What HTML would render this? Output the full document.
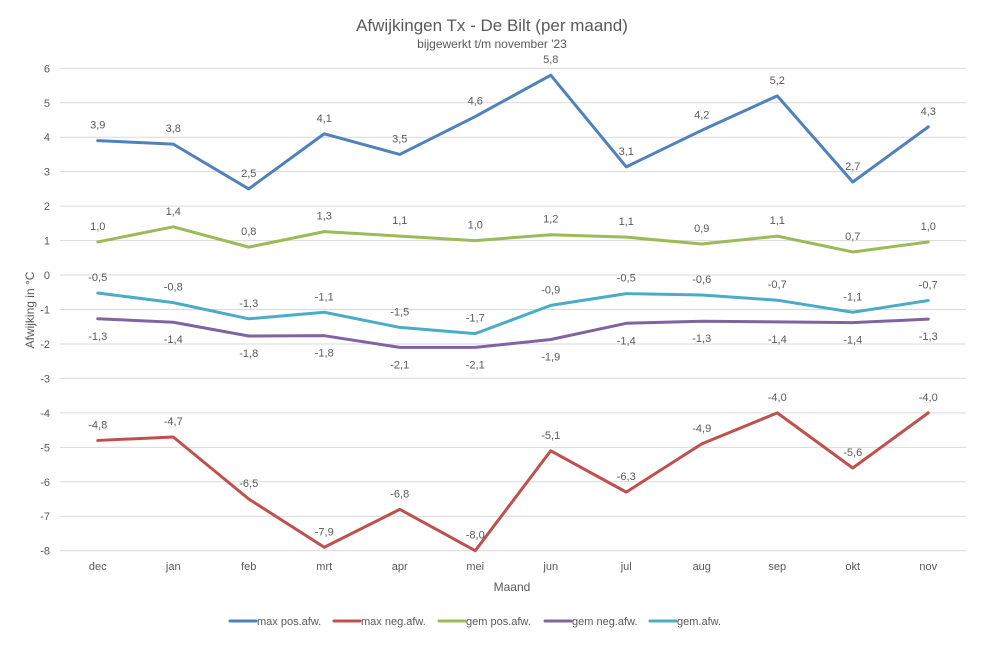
<!DOCTYPE html>
<html><head><meta charset="utf-8"><style>
body{margin:0;background:#fff;}
svg text{font-family:"Liberation Sans",sans-serif;fill:#595959;}
</style></head><body>
<svg id="chart" width="985" height="647" xmlns="http://www.w3.org/2000/svg">
<rect width="985" height="647" fill="#fff"/>
<text x="492" y="31" font-size="17" text-anchor="middle">Afwijkingen Tx - De Bilt (per maand)</text>
<text x="492" y="48" font-size="12" text-anchor="middle">bijgewerkt t/m november '23</text>
<text transform="translate(34,310) rotate(-90)" font-size="12" text-anchor="middle">Afwijking in °C</text>
<text x="512" y="591" font-size="12" text-anchor="middle">Maand</text>
<g id="grid"></g><g id="series"></g><g id="labels"></g><g id="legend"></g>
</svg>
<script>
const categories=["dec","jan","feb","mrt","apr","mei","jun","jul","aug","sep","okt","nov"];
const yTicks=[6,5,4,3,2,1,0,-1,-2,-3,-4,-5,-6,-7,-8];
const maxPos=[3.9,3.8,2.5,4.1,3.5,4.6,5.8,3.14,4.2,5.2,2.7,4.3];
const maxNeg=[-4.8,-4.7,-6.5,-7.9,-6.8,-8.0,-5.1,-6.3,-4.9,-4.0,-5.6,-4.0];
const gemPos=[0.96,1.4,0.81,1.26,1.13,1.0,1.17,1.1,0.9,1.13,0.67,0.96];
const gemNeg=[-1.27,-1.37,-1.77,-1.76,-2.1,-2.1,-1.87,-1.4,-1.34,-1.36,-1.38,-1.28];
const gemAfw=[-0.52,-0.8,-1.27,-1.08,-1.52,-1.7,-0.88,-0.54,-0.58,-0.73,-1.08,-0.74];
const seriesNames=["max pos.afw.","max neg.afw.","gem pos.afw.","gem neg.afw.","gem.afw."];

const NS="http://www.w3.org/2000/svg";
const L=60,R=966,T=68.3,B=550.7,yMin=-8,yMax=6;
const band=(R-L)/categories.length;
const x=i=>L+band*(i+0.5);
const y=v=>B-(v-yMin)/(yMax-yMin)*(B-T);
function mk(tag,a,parent){const e=document.createElementNS(NS,tag);for(const k in a)e.setAttribute(k,a[k]);parent.appendChild(e);return e;}
const grid=document.getElementById('grid');
yTicks.forEach(t=>{
 const g=mk('line',{x1:L,x2:R,y1:y(t),y2:y(t),stroke:'#d9d9d9','stroke-width':1},grid);
 
 
 const tx=mk('text',{x:50,y:y(t)+4,'font-size':11,'text-anchor':'end'},grid);
 tx.textContent=String(t);
 
 
});
categories.forEach((c,i)=>{
 const tx=mk('text',{x:x(i),y:570,'font-size':11,'text-anchor':'middle'},grid);
 tx.textContent=c;
 
 
});
const defs=[
 {d:maxPos,c:'#4f81bd',below:false,n:'max-pos-line'},
 {d:maxNeg,c:'#c0504d',below:false,n:'max-neg-line'},
 {d:gemPos,c:'#9bbb59',below:false,n:'gem-pos-line'},
 {d:gemNeg,c:'#8064a2',below:true,n:'gem-neg-line'},
 {d:gemAfw,c:'#4bacc6',below:false,n:'gem-afw-line'}];
const sg=document.getElementById('series'),lg=document.getElementById('labels');
defs.forEach(s=>{
 const p=mk('polyline',{points:s.d.map((v,i)=>x(i)+','+y(v)).join(' '),fill:'none',stroke:s.c,'stroke-width':3,'stroke-linejoin':'round','stroke-linecap':'round'},sg);
 
 
 s.d.forEach((v,i)=>{
  const t=mk('text',{x:x(i),y:y(v)+(s.below?21:-12),'font-size':11,'text-anchor':'middle'},lg);
  t.textContent=(Math.round(v*10)/10).toFixed(1).replace('.',',');
  
  
 });
});
const lx=[230,334,439,545,650],leg=document.getElementById('legend');
defs.forEach((s,k)=>{
 const ln=mk('line',{x1:lx[k],x2:lx[k]+26,y1:621,y2:621,stroke:s.c,'stroke-width':3,'stroke-linecap':'round'},leg);
 
 
 const t=mk('text',{x:lx[k]+27,y:625,'font-size':11},leg);
 t.textContent=seriesNames[k];
 
 
});
</script>
</body></html>
